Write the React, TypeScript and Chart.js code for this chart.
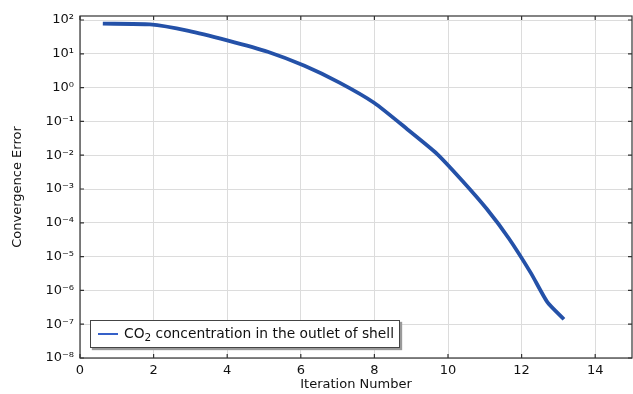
import React, { useEffect, useRef } from "react";
import { Chart, registerables } from "chart.js";

Chart.register(...registerables);

const iterations = [0.62, 1.9, 2.95, 4.0, 5.1, 6.1, 7.05, 8.0, 8.9, 9.7, 10.4, 11.05, 11.65, 12.25, 12.7, 13.15];
const errors = [78, 74, 48, 25, 11.5, 4.4, 1.4, 0.35, 0.058, 0.011, 1.7e-3, 2.6e-4, 3.5e-5, 3.3e-6, 4.5e-7, 1.4e-7];
const xTickValues = [0, 2, 4, 6, 8, 10, 12, 14];
const yExponents = [-8, -7, -6, -5, -4, -3, -2, -1, 0, 1, 2];
const xTitle = "Iteration Number";
const yTitle = "Convergence Error";
const legendMain = "CO";
const legendSub = "2";
const legendRest = " concentration in the outlet of shell";

const FONT = "'DejaVu Sans', sans-serif";
const SUP: Record<string, string> = {
  "-": "⁻", "0": "⁰", "1": "¹", "2": "²", "3": "³", "4": "⁴",
  "5": "⁵", "6": "⁶", "7": "⁷", "8": "⁸", "9": "⁹",
};
const sup = (n: number) => String(n).split("").map((c) => SUP[c] ?? c).join("");

const framePlugin = {
  id: "frame",
  afterDraw(chart: any) {
    const { ctx, chartArea: a, scales } = chart;
    const tl = 4;
    ctx.save();
    ctx.strokeStyle = "#333";
    ctx.lineWidth = 1.2;
    ctx.strokeRect(a.left, a.top, a.right - a.left, a.bottom - a.top);
    ctx.beginPath();
    for (const v of xTickValues) {
      const x = scales.x.getPixelForValue(v);
      ctx.moveTo(x, a.bottom);
      ctx.lineTo(x, a.bottom - tl);
      ctx.moveTo(x, a.top);
      ctx.lineTo(x, a.top + tl);
    }
    for (const e of yExponents) {
      const y = scales.y.getPixelForValue(Math.pow(10, e));
      ctx.moveTo(a.left, y);
      ctx.lineTo(a.left + tl, y);
      ctx.moveTo(a.right, y);
      ctx.lineTo(a.right - tl, y);
    }
    ctx.stroke();
    ctx.restore();
  },
};

export default function App() {
  const ref = useRef<HTMLCanvasElement>(null);
  useEffect(() => {
    if (!ref.current) return;
    const chart = new Chart(ref.current, {
      type: "line",
      data: {
        datasets: [
          {
            label: legendMain + "₂" + legendRest,
            data: iterations.map((x, i) => ({ x, y: errors[i] })),
            borderColor: "#2451a8",
            borderWidth: 3.8,
            pointRadius: 0,
            tension: 0.2,
            fill: false,
          },
        ],
      },
      options: {
        animation: false,
        responsive: true,
        maintainAspectRatio: false,
        layout: { padding: { top: 16, right: 1, left: 0, bottom: 0 } },
        plugins: { legend: { display: false }, tooltip: { enabled: false } },
        scales: {
          x: {
            type: "linear",
            min: 0,
            max: 15,
            afterBuildTicks: (s: any) => {
              s.ticks = xTickValues.map((v) => ({ value: v }));
            },
            afterFit: (s: any) => {
              s.height = 36;
            },
            grid: { color: "#dcdcdc", drawTicks: false },
            border: { display: false },
            ticks: {
              padding: 5,
              color: "#111",
              maxRotation: 0,
              font: { family: FONT, size: 13 },
            },
            title: {
              display: true,
              text: xTitle,
              color: "#111",
              font: { family: FONT, size: 13 },
              padding: { top: 0, bottom: 2 },
            },
          },
          y: {
            type: "logarithmic",
            min: 1e-8,
            max: 131.5,
            afterBuildTicks: (s: any) => {
              s.ticks = yExponents.map((e) => ({ value: Math.pow(10, e) }));
            },
            afterFit: (s: any) => {
              s.width = 80;
            },
            grid: { color: "#dcdcdc", drawTicks: false },
            border: { display: false },
            ticks: {
              padding: 6,
              color: "#111",
              font: { family: FONT, size: 13 },
              callback: (v: any) => "10" + sup(Math.round(Math.log10(Number(v)))),
            },
            title: {
              display: true,
              text: yTitle,
              color: "#111",
              font: { family: FONT, size: 13 },
              padding: { top: 10, bottom: 0 },
            },
          },
        },
      },
      plugins: [framePlugin],
    } as any);
    return () => chart.destroy();
  }, []);

  return (
    <div style={{ position: "absolute", left: 0, top: 0, width: 633, height: 394, background: "#fff" }}>
      <canvas ref={ref} />
      <div
        style={{
          position: "absolute",
          left: 90,
          top: 320,
          width: 308,
          height: 26,
          border: "1px solid #444",
          boxShadow: "2px 2px 1px #9a9a9a",
          background: "#fff",
          display: "flex",
          alignItems: "center",
          fontFamily: FONT,
          fontSize: 13.8,
          color: "#111",
          whiteSpace: "nowrap",
        }}
      >
        <span style={{ display: "inline-block", width: 20, height: 2, background: "#3560c8", marginLeft: 7, marginRight: 6 }} />
        <span>
          {legendMain}
          <sub style={{ fontSize: 10.5, verticalAlign: -3 }}>{legendSub}</sub>
          {legendRest}
        </span>
      </div>
    </div>
  );
}
